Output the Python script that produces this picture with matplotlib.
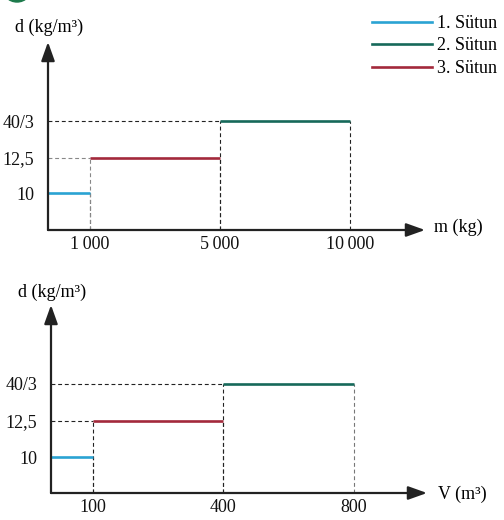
import matplotlib
matplotlib.use("Agg")
import matplotlib.pyplot as plt
from matplotlib.patches import Ellipse
from matplotlib.lines import Line2D
import numpy as np

plt.rcParams['font.family'] = ['Liberation Serif', 'DejaVu Serif']

# data: three columns, density is constant on each mass / volume range
labels = ["1. Sütun", "2. Sütun", "3. Sütun"]
colors = ["#2aa3d3", "#16695a", "#a3293b"]
mass_start = [0, 5000, 1000]
mass_end = [1000, 10000, 5000]
vol_start = [0, 400, 100]
vol_end = [100, 800, 400]
density = [10, 40 / 3, 12.5]

d_ticks = [10, 12.5, 40 / 3]
d_ticklabels = ["10", "12,5", "40/3"]
m_ticks = [1000, 5000, 10000]
m_ticklabels = ["1\u2009000", "5\u2009000", "10\u2009000"]
v_ticks = [100, 400, 800]
v_ticklabels = ["100", "400", "800"]

W, H = 504, 520
FS = 13
fig = plt.figure(figsize=(W / 100, H / 100), dpi=100)

AX_COL = "#222222"


def piecewise(data_pts, pix_pts):
    fwd = lambda v: np.interp(v, data_pts, pix_pts)
    inv = lambda p: np.interp(p, pix_pts, data_pts)
    return fwd, inv


def make_axes(x0, y0, x1, y1):
    # pixel corners: origin (x0, y0), arrow tips x1 (right) and y1 (top)
    ax = fig.add_axes([x0 / W, 1 - y0 / H, (x1 - x0) / W, (y0 - y1) / H])
    for s in ax.spines.values():
        s.set_visible(False)
    ax.patch.set_alpha(0)
    arrow = dict(arrowstyle="-|>,head_length=0.95,head_width=0.34",
                 color=AX_COL, lw=1.6, mutation_scale=12, shrinkA=0, shrinkB=0)
    ax.annotate("", xy=(1, 0), xytext=(0, 0), xycoords="axes fraction",
                arrowprops=arrow, annotation_clip=False)
    ax.annotate("", xy=(0, 1), xytext=(0, 0), xycoords="axes fraction",
                arrowprops=arrow, annotation_clip=False)
    ax.tick_params(length=0, labelsize=FS, colors="#111111")
    ax.tick_params(axis="x", pad=4)
    ax.tick_params(axis="y", pad=10)
    return ax


def draw_panel(ax, starts, ends, xticks, xticklabels, grey_v):
    ax.set_xticks(xticks, xticklabels)
    ax.set_yticks(d_ticks, d_ticklabels)
    dash = dict(lw=0.8, ls=(0, (3.5, 2.5)))
    for i in [0, 2, 1]:
        x_a, x_b, d = starts[i], ends[i], density[i]
        hcol = "#888888" if i == 2 and grey_v else "#222222"
        ax.plot([0, x_a], [d, d], color=hcol, **dash)
        if x_a > 0:
            ax.plot([x_a, x_a], [0, d], color=hcol, **dash)
        vcol = "#777777" if (i == 1 and not grey_v) else "#222222"
        ax.plot([x_b, x_b], [0, d], color=vcol, **dash)
    for i in range(3):
        ax.plot([starts[i], ends[i]], [density[i], density[i]],
                color=colors[i], lw=1.9, solid_capstyle="butt",
                label=labels[i])


# top panel: d against m
ax1 = make_axes(48, 230, 425, 42)
fx, ix = piecewise([0, 1000, 5000, 10000, 12900], [0, 42, 172, 302, 377])
ax1.set_xscale("function", functions=(fx, ix))
fy, iy = piecewise([0, 10, 12.5, 40 / 3, 16], [0, 37, 72, 109, 188])
ax1.set_yscale("function", functions=(fy, iy))
ax1.set_xlim(0, 12900)
ax1.set_ylim(0, 16)
draw_panel(ax1, mass_start, mass_end, m_ticks, m_ticklabels, True)

# bottom panel: d against V
ax2 = make_axes(51, 493, 427, 305)
fx2, ix2 = piecewise([0, 100, 400, 800, 1030], [0, 42, 172, 303, 376])
ax2.set_xscale("function", functions=(fx2, ix2))
fy2, iy2 = piecewise([0, 10, 12.5, 40 / 3, 16], [0, 36, 72, 109, 188])
ax2.set_yscale("function", functions=(fy2, iy2))
ax2.set_xlim(0, 1030)
ax2.set_ylim(0, 16)
draw_panel(ax2, vol_start, vol_end, v_ticks, v_ticklabels, False)

# axis titles
fig.text(49 / W, 1 - 27 / H, "d (kg/m³)", ha="center", va="center", fontsize=FS)
fig.text(434 / W, 1 - 227 / H, "m (kg)", ha="left", va="center", fontsize=FS)
fig.text(52 / W, 1 - 292 / H, "d (kg/m³)", ha="center", va="center", fontsize=FS)
fig.text(438 / W, 1 - 494 / H, "V (m³)", ha="left", va="center", fontsize=FS)

# legend
handles = [Line2D([], [], color=c, lw=1.9) for c in colors]
fig.legend(handles, labels, loc="upper left",
           bbox_to_anchor=(372 / W, 1 - 15 / H), frameon=False,
           fontsize=FS, handlelength=3.3, handletextpad=0.3,
           labelspacing=0.3, borderpad=0, borderaxespad=0)

# green badge cut off at the top left
fig.patches.append(Ellipse((17 / W, 1 + 13 / H), 30 / W, 30 / H,
                           transform=fig.transFigure, color="#1d7a4c"))

fig.savefig("out.png", dpi=100)
